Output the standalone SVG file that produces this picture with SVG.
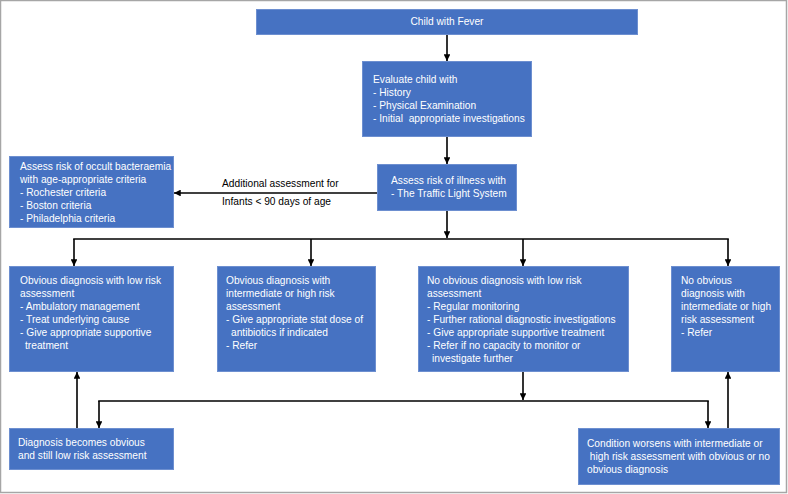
<svg xmlns="http://www.w3.org/2000/svg" width="788" height="494" viewBox="0 0 788 494">
<style>
.b{fill:#4672c2;stroke:#6d8fd0;stroke-width:1}
.t{font-family:"Liberation Sans",Arial,sans-serif;font-size:10.2px;fill:#ffffff;white-space:pre}
.l{font-family:"Liberation Sans",Arial,sans-serif;font-size:10.2px;fill:#000000}
.c{fill:none;stroke:#000;stroke-width:1.6}
</style>
<defs>
<marker id="a" viewBox="0 0 10 10" refX="10" refY="5" markerWidth="4.2" markerHeight="4.2" orient="auto" markerUnits="strokeWidth">
<path d="M0,0 L10,5 L0,10 z" fill="#000"/>
</marker>
</defs>
<rect x="0.5" y="0.5" width="786" height="492" fill="#fff" stroke="#a6a6a6" stroke-width="1.5"/>
<g id="connectors">
<line class="c" x1="447" y1="34" x2="447" y2="61" marker-end="url(#a)"/>
<line class="c" x1="447" y1="137" x2="447" y2="164" marker-end="url(#a)"/>
<line class="c" x1="378" y1="193" x2="174" y2="193" marker-end="url(#a)"/>
<line class="c" x1="447" y1="211" x2="447" y2="238" marker-end="url(#a)"/>
<line class="c" x1="73.2" y1="239" x2="728.8" y2="239"/>
<line class="c" x1="74" y1="239" x2="74" y2="266" marker-end="url(#a)"/>
<line class="c" x1="311" y1="239" x2="311" y2="266" marker-end="url(#a)"/>
<line class="c" x1="523" y1="239" x2="523" y2="266" marker-end="url(#a)"/>
<line class="c" x1="728" y1="239" x2="728" y2="266" marker-end="url(#a)"/>
<line class="c" x1="523" y1="372" x2="523" y2="400" marker-end="url(#a)"/>
<line class="c" x1="98.2" y1="401" x2="708.8" y2="401"/>
<line class="c" x1="99" y1="401" x2="99" y2="428" marker-end="url(#a)"/>
<line class="c" x1="708" y1="401" x2="708" y2="428" marker-end="url(#a)"/>
<line class="c" x1="77" y1="428" x2="77" y2="372" marker-end="url(#a)"/>
<line class="c" x1="728" y1="428" x2="728" y2="372" marker-end="url(#a)"/>
<text class="l" x="222" y="187">Additional assessment for</text>
<text class="l" x="222" y="205">Infants &lt; 90 days of age</text>
</g>
<g id="fever">
<rect class="b" x="256.5" y="9.5" width="381" height="25"/>
<text class="t" x="447" y="25" text-anchor="middle">Child with Fever</text>
</g>
<g id="evaluate">
<rect class="b" x="362.5" y="61.5" width="169" height="75"/>
<text class="t" x="373" y="83">Evaluate child with</text>
<text class="t" x="373" y="96">- History</text>
<text class="t" x="373" y="109">- Physical Examination</text>
<text class="t" x="373" y="122">- Initial  appropriate investigations</text>
</g>
<g id="assess">
<rect class="b" x="377.5" y="164.5" width="139" height="46"/>
<text class="t" x="391" y="184">Assess risk of illness with</text>
<text class="t" x="391" y="197">- The Traffic Light System</text>
</g>
<g id="occult">
<rect class="b" x="9.5" y="156.5" width="164" height="71"/>
<text class="t" x="20" y="170">Assess risk of occult bacteraemia</text>
<text class="t" x="20" y="183">with age-appropriate criteria</text>
<text class="t" x="20" y="196">- Rochester criteria</text>
<text class="t" x="20" y="209">- Boston criteria</text>
<text class="t" x="20" y="222">- Philadelphia criteria</text>
</g>
<g id="obvious-low">
<rect class="b" x="9.5" y="266.5" width="164" height="105"/>
<text class="t" x="20" y="284">Obvious diagnosis with low risk</text>
<text class="t" x="20" y="297">assessment</text>
<text class="t" x="20" y="310">- Ambulatory management</text>
<text class="t" x="20" y="323">- Treat underlying cause</text>
<text class="t" x="20" y="336">- Give appropriate supportive</text>
<text class="t" x="25" y="349">treatment</text>
</g>
<g id="obvious-high">
<rect class="b" x="217.5" y="266.5" width="158" height="105"/>
<text class="t" x="226" y="284">Obvious diagnosis with</text>
<text class="t" x="226" y="297">intermediate or high risk</text>
<text class="t" x="226" y="310">assessment</text>
<text class="t" x="226" y="323">- Give appropriate stat dose of</text>
<text class="t" x="231" y="336">antibiotics if indicated</text>
<text class="t" x="226" y="349">- Refer</text>
</g>
<g id="noobvious-low">
<rect class="b" x="418.5" y="266.5" width="210" height="105"/>
<text class="t" x="427" y="284">No obvious diagnosis with low risk</text>
<text class="t" x="427" y="297">assessment</text>
<text class="t" x="427" y="310">- Regular monitoring</text>
<text class="t" x="427" y="323">- Further rational diagnostic investigations</text>
<text class="t" x="427" y="336">- Give appropriate supportive treatment</text>
<text class="t" x="427" y="349">- Refer if no capacity to monitor or</text>
<text class="t" x="432" y="362">investigate further</text>
</g>
<g id="noobvious-high">
<rect class="b" x="671.5" y="266.5" width="108" height="105"/>
<text class="t" x="681" y="284">No obvious</text>
<text class="t" x="681" y="297">diagnosis with</text>
<text class="t" x="681" y="310">intermediate or high</text>
<text class="t" x="681" y="323">risk assessment</text>
<text class="t" x="681" y="336">- Refer</text>
</g>
<g id="becomes-obvious">
<rect class="b" x="9.5" y="428.5" width="164" height="41"/>
<text class="t" x="18" y="446">Diagnosis becomes obvious</text>
<text class="t" x="18" y="459">and still low risk assessment</text>
</g>
<g id="worsens">
<rect class="b" x="578.5" y="428.5" width="201" height="56"/>
<text class="t" x="587" y="447">Condition worsens with intermediate or</text>
<text class="t" x="587" y="460"> high risk assessment with obvious or no</text>
<text class="t" x="587" y="473">obvious diagnosis</text>
</g>
</svg>
